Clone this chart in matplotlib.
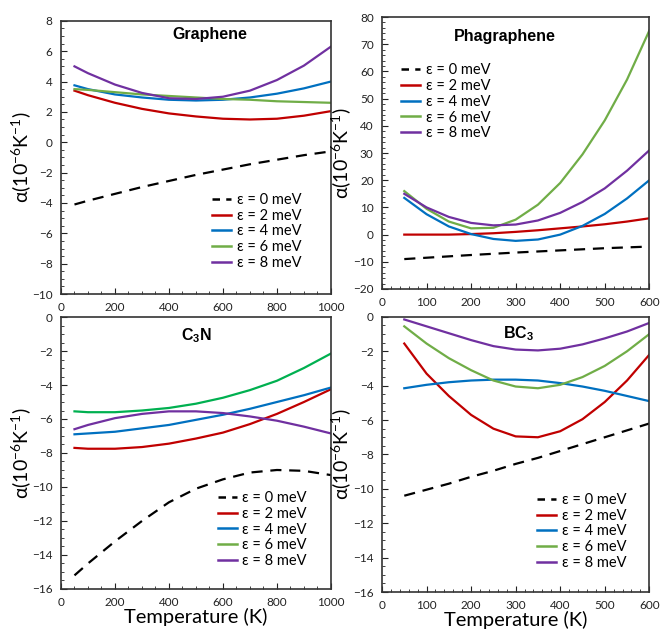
import numpy as np
import matplotlib
matplotlib.use("Agg")
import matplotlib.pyplot as plt
from matplotlib.ticker import MultipleLocator
from matplotlib.lines import Line2D

plt.rcParams['font.family'] = ['Lato', 'DejaVu Sans']
plt.rcParams['mathtext.fontset'] = 'custom'
plt.rcParams['mathtext.rm'] = 'Lato'
plt.rcParams['mathtext.default'] = 'regular'

labels = ['ε = 0 meV', 'ε = 2 meV', 'ε = 4 meV', 'ε = 6 meV', 'ε = 8 meV']
colors = ['black', '#c00000', '#0070c0', '#70ad47', '#7030a0']

# Graphene
T_gr = [50, 100, 200, 300, 400, 500, 600, 700, 800, 900, 1000]
gr_0 = [-4.1, -3.85, -3.4, -2.95, -2.55, -2.15, -1.8, -1.45, -1.15, -0.85, -0.6]
gr_2 = [3.4, 3.1, 2.6, 2.2, 1.9, 1.7, 1.55, 1.5, 1.55, 1.75, 2.05]
gr_4 = [3.75, 3.5, 3.15, 2.95, 2.8, 2.75, 2.8, 2.95, 3.2, 3.55, 4.0]
gr_6 = [3.5, 3.45, 3.3, 3.15, 3.05, 2.95, 2.85, 2.8, 2.7, 2.65, 2.6]
gr_8 = [5.0, 4.55, 3.8, 3.25, 2.9, 2.85, 3.0, 3.4, 4.1, 5.05, 6.3]

# Phagraphene
T_ph = [50, 100, 150, 200, 250, 300, 350, 400, 450, 500, 550, 600]
ph_0 = [-9.0, -8.5, -8.0, -7.5, -7.05, -6.6, -6.2, -5.8, -5.4, -5.0, -4.7, -4.4]
ph_2 = [0.0, 0.0, 0.0, 0.2, 0.5, 1.0, 1.6, 2.3, 3.0, 3.8, 4.8, 6.0]
ph_4 = [13.5, 7.5, 3.0, 0.2, -1.6, -2.3, -1.8, 0.0, 3.2, 7.6, 13.3, 20.0]
ph_6 = [16.0, 9.5, 4.8, 2.3, 2.5, 5.5, 11.0, 19.0, 29.5, 42.0, 57.0, 75.0]
ph_8 = [15.0, 10.0, 6.5, 4.3, 3.4, 3.7, 5.2, 8.0, 12.0, 17.0, 23.5, 31.0]

# C3N
T_cn = [50, 100, 200, 300, 400, 500, 600, 700, 800, 900, 1000]
cn_0 = [-15.2, -14.5, -13.2, -12.0, -10.9, -10.1, -9.55, -9.15, -9.0, -9.05, -9.3]
cn_2 = [-7.7, -7.75, -7.75, -7.65, -7.45, -7.15, -6.8, -6.3, -5.7, -5.0, -4.25]
cn_4 = [-6.9, -6.85, -6.75, -6.55, -6.35, -6.05, -5.75, -5.4, -5.0, -4.6, -4.15]
cn_6 = [-5.55, -5.6, -5.6, -5.5, -5.35, -5.1, -4.75, -4.3, -3.75, -3.0, -2.15]
cn_8 = [-6.6, -6.35, -5.95, -5.7, -5.55, -5.55, -5.65, -5.85, -6.1, -6.45, -6.85]

# BC3
T_bc = [50, 100, 150, 200, 250, 300, 350, 400, 450, 500, 550, 600]
bc_0 = [-10.4, -10.05, -9.7, -9.3, -8.95, -8.55, -8.2, -7.8, -7.4, -7.0, -6.6, -6.2]
bc_2 = [-1.55, -3.3, -4.6, -5.7, -6.5, -6.95, -7.0, -6.65, -5.95, -4.95, -3.7, -2.2]
bc_4 = [-4.15, -3.95, -3.8, -3.7, -3.65, -3.65, -3.7, -3.85, -4.05, -4.3, -4.6, -4.9]
bc_6 = [-0.55, -1.55, -2.4, -3.1, -3.7, -4.05, -4.15, -3.95, -3.5, -2.85, -2.0, -1.0]
bc_8 = [-0.15, -0.55, -0.95, -1.35, -1.7, -1.9, -1.95, -1.85, -1.6, -1.25, -0.85, -0.35]

fig = plt.figure(figsize=(6.6, 6.31), dpi=100)

panels = [
    # title, T, series, rect, xlim, xmajor, xminor, ylim, ymajor, yminor, title pos, legend pos, xlabel
    ('Graphene', T_gr, [gr_0, gr_2, gr_4, gr_6, gr_8], [0.0924, 0.534, 0.409, 0.433],
     (0, 1000), 200, 50, (-10, 8), 2, 0.5, (0.55, 0.95), (0.56, 0.37), False),
    ('Phagraphene', T_ph, [ph_0, ph_2, ph_4, ph_6, ph_8], [0.5788, 0.542, 0.405, 0.431],
     (0, 600), 100, 20, (-20, 80), 10, 2, (0.46, 0.93), (0.07, 0.83), False),
    ('C$_3$N', T_cn, [cn_0, cn_2, cn_4, cn_6, cn_8], [0.0924, 0.0666, 0.409, 0.431],
     (0, 1000), 200, 50, (-16, 0), 2, 0.5, (0.50, 0.93), (0.58, 0.36), True),
    ('BC$_3$', T_bc, [bc_0, bc_2, bc_4, bc_6, bc_8], [0.5788, 0.0618, 0.405, 0.436],
     (0, 600), 100, 20, (-16, 0), 2, 0.5, (0.51, 0.94), (0.58, 0.36), True),
]

for (title, T, series, rect, xlim, xmaj, xmin, ylim, ymaj, ymin,
     tpos, lpos, show_xlabel) in panels:
    ax = fig.add_axes(rect)
    for i, (y, c, lab) in enumerate(zip(series, colors, labels)):
        lc = c
        if title.startswith('C$_3$N') and i == 3:
            lc = '#00b050'
        if i == 0:
            ax.plot(T, y, color=lc, lw=1.6, dashes=(5, 3.5), label=lab)
        else:
            ax.plot(T, y, color=lc, lw=1.6, label=lab)
    ax.set_xlim(*xlim)
    ax.set_ylim(*ylim)
    ax.xaxis.set_major_locator(MultipleLocator(xmaj))
    ax.xaxis.set_minor_locator(MultipleLocator(xmin))
    ax.yaxis.set_major_locator(MultipleLocator(ymaj))
    ax.yaxis.set_minor_locator(MultipleLocator(ymin))
    ax.tick_params(which='both', direction='in', labelsize=8.5, colors='#222222')
    ax.tick_params(which='major', length=4, pad=6)
    ax.tick_params(which='minor', length=2.5)
    for s in ax.spines.values():
        s.set_linewidth(1.2)
        s.set_color('#333333')
    ax.text(tpos[0], tpos[1], title, transform=ax.transAxes, ha='center', va='center',
            fontsize=11.5, fontweight='bold', family=['Liberation Sans', 'DejaVu Sans'])
    handles = [Line2D([], [], color=c, lw=1.8, dashes=(3, 2.5)) if i == 0
               else Line2D([], [], color=c, lw=1.8) for i, c in enumerate(colors)]
    ax.legend(handles, labels, loc='upper left', bbox_to_anchor=lpos, frameon=False,
              fontsize=10.5, handlelength=1.3, handletextpad=0.4, labelspacing=0.12,
              borderpad=0, borderaxespad=0)
    ax.set_ylabel('α(10$^{-6}$K$^{-1}$)', fontsize=14)
    ax.yaxis.set_label_coords(-0.105 if rect[0] < 0.3 else -0.108, 0.5)
    if show_xlabel:
        ax.set_xlabel('Temperature (K)', fontsize=14.5, labelpad=0)

fig.savefig('out.png', dpi=100)
